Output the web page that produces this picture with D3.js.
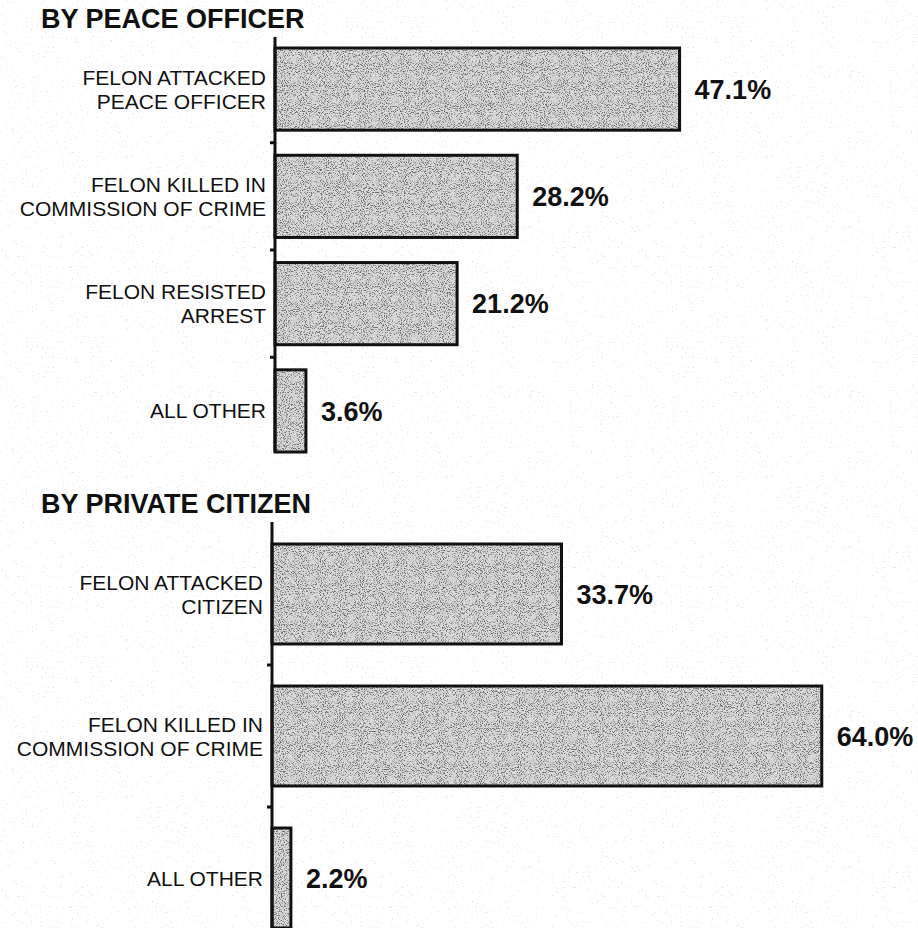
<!DOCTYPE html>
<html>
<head>
<meta charset="utf-8">
<script src="https://cdn.jsdelivr.net/npm/d3@7/dist/d3.min.js"></script>
<style>
  html, body { margin: 0; padding: 0; background: #fff; }
  svg { display: block; }
  text { font-family: "Liberation Sans", Arial, Helvetica, sans-serif; fill: #111; }
</style>
</head>
<body>
<svg id="chart" width="918" height="928"></svg>
<script>
// Justifiable homicide, by circumstance (percent of cases)
const panelTitles = ["BY PEACE OFFICER", "BY PRIVATE CITIZEN"];

const officerCategories = [
  "FELON ATTACKED\nPEACE OFFICER",
  "FELON KILLED IN\nCOMMISSION OF CRIME",
  "FELON RESISTED\nARREST",
  "ALL OTHER"
];
const officerValues = [47.1, 28.2, 21.2, 3.6];

const citizenCategories = [
  "FELON ATTACKED\nCITIZEN",
  "FELON KILLED IN\nCOMMISSION OF CRIME",
  "ALL OTHER"
];
const citizenValues = [33.7, 64.0, 2.2];

const fmt = v => v.toFixed(1) + "%";

const svg = d3.select("#chart");
const W = 918, H = 928;

// grain: paper speckle and stippled bar fill
const defs = svg.append("defs");
const stipple = defs.append("filter").attr("id", "stipple")
  .attr("x", 0).attr("y", 0).attr("width", 1).attr("height", 1);
stipple.append("feTurbulence").attr("type", "fractalNoise")
  .attr("baseFrequency", 0.95).attr("numOctaves", 2).attr("seed", 7).attr("result", "n");
stipple.append("feColorMatrix").attr("in", "n").attr("type", "matrix")
  .attr("values", "0 0 0 0 0.15  0 0 0 0 0.15  0 0 0 0 0.15  -5 0 0 0 2.5").attr("result", "dots");
stipple.append("feComposite").attr("in", "dots").attr("in2", "SourceAlpha").attr("operator", "in");

const speckle = defs.append("filter").attr("id", "speckle")
  .attr("x", 0).attr("y", 0).attr("width", 1).attr("height", 1);
speckle.append("feTurbulence").attr("type", "fractalNoise")
  .attr("baseFrequency", 0.8).attr("numOctaves", 2).attr("seed", 11).attr("result", "n");
speckle.append("feColorMatrix").attr("in", "n").attr("type", "matrix")
  .attr("values", "0 0 0 0 0.4  0 0 0 0 0.4  0 0 0 0 0.4  -14 0 0 0 4.2");

svg.append("rect").attr("width", W).attr("height", H).attr("fill", "#fff");
svg.append("rect").attr("width", W).attr("height", H).attr("fill", "#fff")
  .attr("filter", "url(#speckle)").attr("opacity", 0.3);

// shared value scale (percent -> px)
const x = d3.scaleLinear().domain([0, 100]).range([0, 859]);

function drawPanel(cfg) {
  const g = svg.append("g").attr("transform", `translate(${cfg.axisX},0)`);

  const y = d3.scaleBand()
    .domain(cfg.categories)
    .range(cfg.range)
    .paddingInner(cfg.padding)
    .paddingOuter(0);
  const gap = y.step() - y.bandwidth();

  // title
  svg.append("text")
    .attr("x", 41).attr("y", cfg.titleY)
    .attr("font-size", 27).attr("font-weight", "bold")
    .text(cfg.title);

  // bars: stipple fill, then outline
  const data = cfg.categories.map((c, i) => ({ c, v: cfg.values[i] }));
  const bars = g.selectAll("g.bar").data(data).join("g").attr("class", "bar");
  bars.append("rect")
    .attr("x", 0).attr("y", d => y(d.c))
    .attr("width", d => x(d.v)).attr("height", y.bandwidth())
    .attr("fill", "#d9d9d9");
  bars.append("rect")
    .attr("x", 0).attr("y", d => y(d.c))
    .attr("width", d => x(d.v)).attr("height", y.bandwidth())
    .attr("fill", "#fff").attr("filter", "url(#stipple)");
  bars.append("rect")
    .attr("x", 0).attr("y", d => y(d.c))
    .attr("width", d => x(d.v)).attr("height", y.bandwidth())
    .attr("fill", "none").attr("stroke", "#111").attr("stroke-width", 3);

  // value labels
  bars.append("text")
    .attr("x", d => x(d.v) + 15)
    .attr("y", d => y(d.c) + y.bandwidth() / 2)
    .attr("dy", "0.36em")
    .attr("font-size", 27).attr("font-weight", "bold")
    .text(d => fmt(d.v));

  // category labels (multi-line, right aligned)
  const lab = g.selectAll("text.cat").data(data).join("text").attr("class", "cat")
    .attr("text-anchor", "end")
    .attr("font-size", 21);
  lab.each(function (d) {
    const lines = d.c.split("\n");
    const cy = y(d.c) + y.bandwidth() / 2;
    const lh = 24;
    const t = d3.select(this);
    lines.forEach((ln, k) => {
      t.append("tspan")
        .attr("x", -9)
        .attr("y", cy + (k - (lines.length - 1) / 2) * lh)
        .attr("dy", "0.36em")
        .text(ln);
    });
  });

  // axis line and tick marks between bars
  g.append("line")
    .attr("x1", 0).attr("x2", 0)
    .attr("y1", cfg.axisTop).attr("y2", cfg.range[1])
    .attr("stroke", "#111").attr("stroke-width", 3);
  const tickYs = cfg.categories.slice(1).map(c => y(c) - gap / 2);
  g.selectAll("line.tick").data(tickYs).join("line").attr("class", "tick")
    .attr("x1", -5).attr("x2", 0)
    .attr("y1", d => d).attr("y2", d => d)
    .attr("stroke", "#111").attr("stroke-width", 3);
}

drawPanel({
  title: panelTitles[0], titleY: 28,
  categories: officerCategories, values: officerValues,
  axisX: 275, axisTop: 37, range: [48, 452], padding: 0.234
});

drawPanel({
  title: panelTitles[1], titleY: 513,
  categories: citizenCategories, values: citizenValues,
  axisX: 272, axisTop: 522, range: [544, 928], padding: 0.296
});
</script>
</body>
</html>
